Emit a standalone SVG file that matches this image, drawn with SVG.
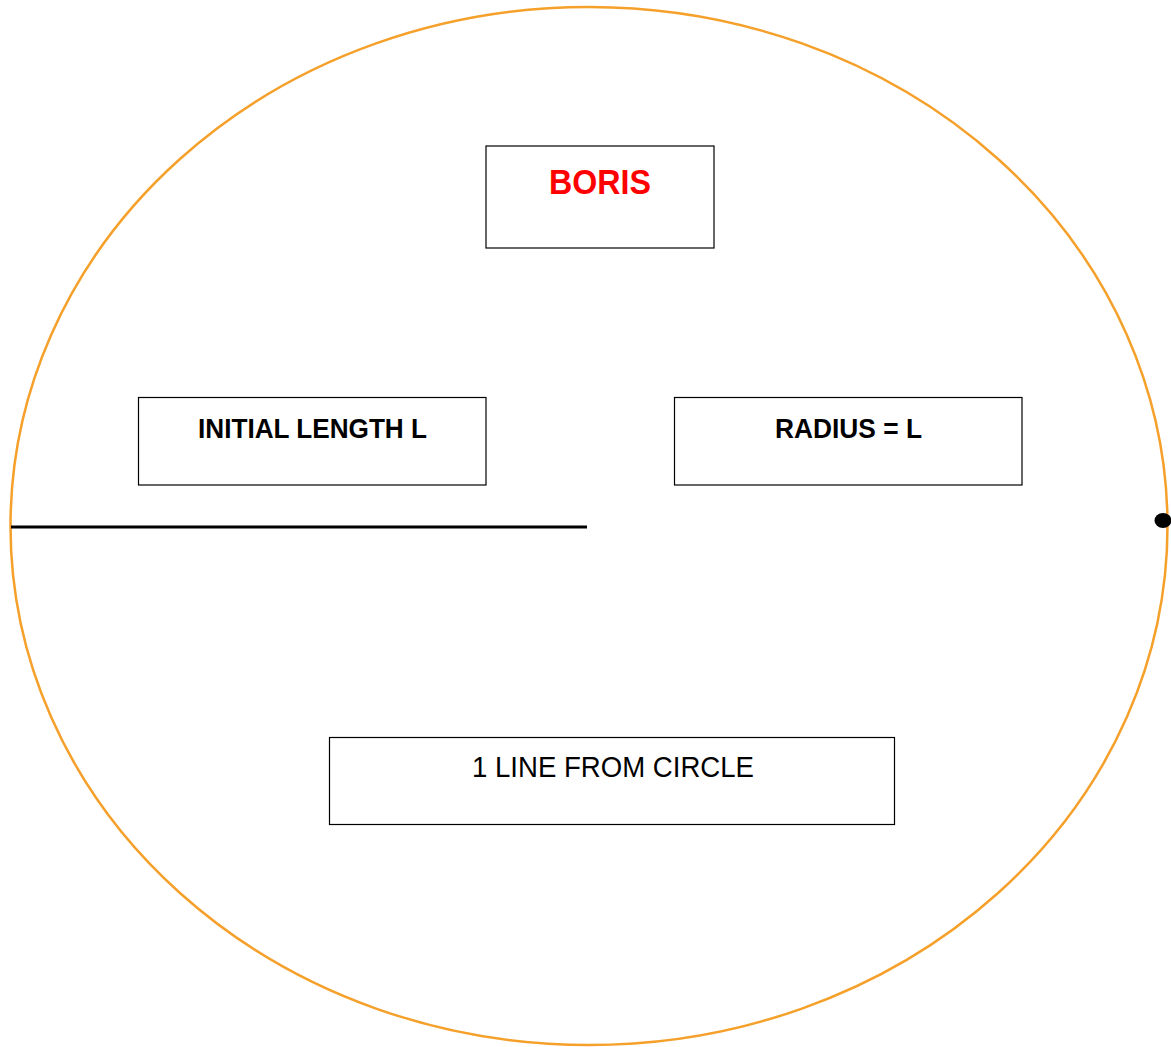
<svg xmlns="http://www.w3.org/2000/svg" width="1171" height="1047" viewBox="0 0 1171 1047">
<style>
.box{fill:#fff;stroke:#000;stroke-width:1.2}
.t{font-family:"Liberation Sans",Arial,sans-serif;text-anchor:middle}
.b{font-weight:bold}
</style>
<rect width="1171" height="1047" fill="#fff"/>
<g id="circle">
<ellipse cx="589" cy="526" rx="578.5" ry="519" fill="none" stroke="#f5a02a" stroke-width="2.5"/>
</g>
<g id="connectors">
<line x1="11" y1="527" x2="587" y2="527" stroke="#000" stroke-width="3"/>
<ellipse cx="1163" cy="520.5" rx="8.5" ry="7.5" fill="#000"/>
</g>
<g id="boris">
<rect class="box" x="486" y="146" width="228" height="102"/>
<text class="t b" x="600" y="194" font-size="35" fill="#ff0000" textLength="102" lengthAdjust="spacingAndGlyphs">BORIS</text>
</g>
<g id="initial-length">
<rect class="box" x="138.5" y="397.5" width="347.5" height="87.5"/>
<text class="t b" x="312.5" y="438" font-size="27" fill="#000" textLength="229" lengthAdjust="spacingAndGlyphs">INITIAL LENGTH L</text>
</g>
<g id="radius">
<rect class="box" x="674.5" y="397.5" width="347.5" height="87.5"/>
<text class="t b" x="848.5" y="438" font-size="27" fill="#000" textLength="147" lengthAdjust="spacingAndGlyphs">RADIUS = L</text>
</g>
<g id="one-line">
<rect class="box" x="329.5" y="737.5" width="565" height="87"/>
<text class="t" x="613" y="777" font-size="30" fill="#000" textLength="282" lengthAdjust="spacingAndGlyphs">1 LINE FROM CIRCLE</text>
</g>
</svg>
